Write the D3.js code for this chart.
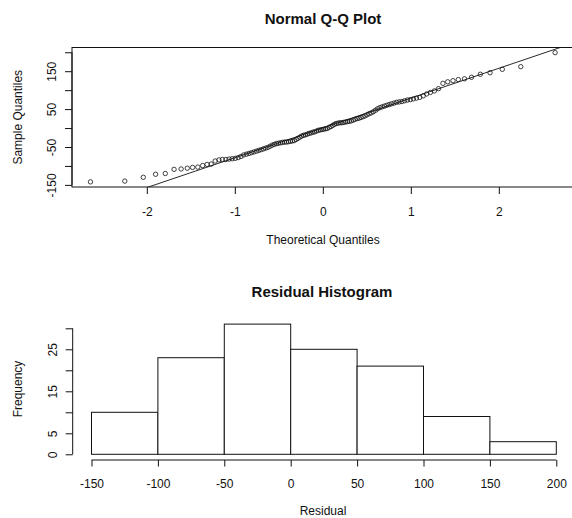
<!DOCTYPE html>
<html>
<head>
<meta charset="utf-8">
<script src="https://cdn.jsdelivr.net/npm/d3@7"></script>
<style>
  body { margin: 0; background: #fff; }
  svg { display: block; font-family: "Liberation Sans", Arial, Helvetica, sans-serif; }
</style>
</head>
<body>
<div id="chart"></div>
<script>
const width = 572;
const height = 518;

// theoretical quantiles (x) of the sorted residuals
const theoretical = [
  -2.64, -2.25, -2.04, -1.90, -1.79, -1.69, -1.61, -1.54, -1.48, -1.42,
  -1.365, -1.315, -1.268, -1.223, -1.180, -1.141, -1.102, -1.065, -1.030, -0.995,
  -0.962, -0.930, -0.899, -0.868, -0.839, -0.810, -0.782, -0.754, -0.727, -0.701,
  -0.674, -0.649, -0.623, -0.599, -0.574, -0.550, -0.526, -0.503, -0.480, -0.457,
  -0.434, -0.412, -0.390, -0.367, -0.346, -0.324, -0.302, -0.281, -0.260, -0.239,
  -0.218, -0.197, -0.176, -0.155, -0.134, -0.113, -0.093, -0.072, -0.051, -0.031,
  -0.010, 0.010, 0.031, 0.051, 0.072, 0.093, 0.113, 0.134, 0.155, 0.176,
  0.197, 0.218, 0.239, 0.260, 0.281, 0.302, 0.324, 0.346, 0.367, 0.390,
  0.412, 0.434, 0.457, 0.480, 0.503, 0.526, 0.550, 0.574, 0.599, 0.623,
  0.649, 0.674, 0.701, 0.727, 0.754, 0.782, 0.810, 0.839, 0.868, 0.899,
  0.930, 0.962, 0.995, 1.030, 1.065, 1.102, 1.141, 1.180, 1.223, 1.268,
  1.315, 1.365, 1.42, 1.48, 1.54, 1.61, 1.69, 1.79, 1.90, 2.04,
  2.25, 2.64
];

// sorted residuals (sample quantiles)
const residuals = [
  -142, -140, -130, -122, -120, -109, -108, -106, -104, -103,
  -99, -96, -95, -87, -84, -83, -83, -82, -81, -80,
  -78, -75, -71, -69, -67, -65, -63, -61, -59, -57,
  -55, -53, -51, -48, -45, -43, -41, -40, -39, -38,
  -37, -37, -36, -35, -34, -33, -30, -27, -24, -21,
  -19, -18, -16, -14, -13, -11, -10, -8, -6, -5,
  -4, -3, -2, -1, 2, 4, 7, 10, 12, 13,
  14, 14, 15, 16, 17, 18, 19, 21, 23, 25,
  26, 28, 30, 32, 35, 38, 40, 43, 47, 51,
  54, 56, 58, 60, 62, 64, 66, 68, 69, 70,
  72, 74, 75, 77, 79, 81, 85, 90, 94, 98,
  104, 118, 122, 125, 128, 130, 134, 142, 146, 155,
  162, 199
];

// reference line (intercept, slope)
const qqIntercept = 0.3;
const qqSlope = 78.7;

const qqTicksX = [-2, -1, 0, 1, 2];
const qqTicksY = [-150, -100, -50, 0, 50, 100, 150, 200];
const qqLabelsY = [-150, -50, 50, 150];

const binEdges = [-150, -100, -50, 0, 50, 100, 150, 200];
const freqTicks = [0, 5, 10, 15, 20, 25, 30];
const freqLabels = [0, 5, 15, 25];

const ink = "#111";

const svg = d3
  .select("#chart")
  .append("svg")
  .attr("width", width)
  .attr("height", height);

svg.append("rect").attr("width", width).attr("height", height).attr("fill", "#fff");

// rotate y tick labels so they read bottom to top, like base R
function rotateLabels(g, offset) {
  g.selectAll(".tick text")
    .attr("transform", "rotate(-90)")
    .attr("x", 0)
    .attr("y", -offset)
    .attr("dy", "0.35em")
    .attr("text-anchor", "middle");
}

function styleAxis(g) {
  g.attr("font-size", 12).attr("font-family", null);
  g.select(".domain").remove();
  g.selectAll(".tick line").attr("stroke", ink);
  g.selectAll(".tick text").attr("fill", ink);
}

// ---------- Normal Q-Q plot ----------
const qq = { left: 72, right: 573.6, top: 47.5, bottom: 187 };

const qqX = d3.scaleLinear().domain([-2.85, 2.85]).range([qq.left, qq.right]);
const qqY = d3.scaleLinear().domain([-155.6, 212.6]).range([qq.bottom, qq.top]);

svg
  .append("clipPath")
  .attr("id", "qq-clip")
  .append("rect")
  .attr("x", qq.left)
  .attr("y", qq.top)
  .attr("width", qq.right - qq.left)
  .attr("height", qq.bottom - qq.top);

const qqPlot = svg.append("g").attr("clip-path", "url(#qq-clip)");

qqPlot
  .selectAll("circle")
  .data(d3.zip(theoretical, residuals))
  .join("circle")
  .attr("cx", (d) => qqX(d[0]))
  .attr("cy", (d) => qqY(d[1]))
  .attr("r", 2.2)
  .attr("fill", "none")
  .attr("stroke", ink)
  .attr("stroke-width", 0.8);

const [lineX0, lineX1] = qqX.domain();
qqPlot
  .append("line")
  .attr("x1", qqX(lineX0))
  .attr("y1", qqY(qqIntercept + qqSlope * lineX0))
  .attr("x2", qqX(lineX1))
  .attr("y2", qqY(qqIntercept + qqSlope * lineX1))
  .attr("stroke", ink)
  .attr("stroke-width", 0.9);

// plot frame
svg
  .append("rect")
  .attr("x", qq.left)
  .attr("y", qq.top)
  .attr("width", qq.right - qq.left)
  .attr("height", qq.bottom - qq.top)
  .attr("fill", "none")
  .attr("stroke", ink);

svg
  .append("g")
  .attr("transform", `translate(0,${qq.bottom})`)
  .call(d3.axisBottom(qqX).tickValues(qqTicksX).tickSize(7).tickFormat((d) => String(d)))
  .call(styleAxis)
  .call((g) => g.selectAll(".tick text").attr("y", 24.7).attr("dy", "0.35em"));

const qqAxisY = svg
  .append("g")
  .attr("transform", `translate(${qq.left},0)`)
  .call(
    d3
      .axisLeft(qqY)
      .tickValues(qqTicksY)
      .tickSize(7)
      .tickFormat((d) => (qqLabelsY.includes(d) ? String(d) : ""))
  )
  .call(styleAxis)
  .call((g) => rotateLabels(g, 20));

qqAxisY
  .append("line")
  .attr("y1", qqY(qqTicksY[0]))
  .attr("y2", qqY(qqTicksY[qqTicksY.length - 1]))
  .attr("stroke", ink);

svg
  .append("text")
  .attr("x", 323)
  .attr("y", 19)
  .attr("dy", "0.35em")
  .attr("text-anchor", "middle")
  .attr("font-size", 15)
  .attr("font-weight", "bold")
  .attr("fill", ink)
  .text("Normal Q-Q Plot");

svg
  .append("text")
  .attr("x", 323)
  .attr("y", 239.5)
  .attr("dy", "0.35em")
  .attr("text-anchor", "middle")
  .attr("font-size", 12)
  .attr("fill", ink)
  .text("Theoretical Quantiles");

svg
  .append("text")
  .attr("transform", `translate(18,${(qq.top + qq.bottom) / 2}) rotate(-90)`)
  .attr("dy", "0.35em")
  .attr("text-anchor", "middle")
  .attr("font-size", 12)
  .attr("fill", ink)
  .text("Sample Quantiles");

// ---------- Residual histogram ----------
const histX = d3.scaleLinear().domain([-164, 214]).range([72.9, 574.9]);
const histY = d3.scaleLinear().domain([-1.24, 32.24]).range([459.5, 318.9]);

const bins = d3
  .bin()
  .domain([binEdges[0], binEdges[binEdges.length - 1]])
  .thresholds(binEdges.slice(1, -1))(residuals);

svg
  .append("g")
  .selectAll("rect")
  .data(bins)
  .join("rect")
  .attr("x", (d) => histX(d.x0))
  .attr("y", (d) => histY(d.length))
  .attr("width", (d) => histX(d.x1) - histX(d.x0))
  .attr("height", (d) => histY(0) - histY(d.length))
  .attr("fill", "#fff")
  .attr("stroke", ink)
  .attr("stroke-width", 1);

const histAxisX = svg
  .append("g")
  .attr("transform", "translate(0,460)")
  .call(d3.axisBottom(histX).tickValues(binEdges).tickSize(6.5).tickFormat((d) => String(d)))
  .call(styleAxis)
  .call((g) => g.selectAll(".tick text").attr("y", 23.3).attr("dy", "0.35em"));

histAxisX
  .append("line")
  .attr("x1", histX(binEdges[0]))
  .attr("x2", histX(binEdges[binEdges.length - 1]))
  .attr("stroke", ink);

const histAxisY = svg
  .append("g")
  .attr("transform", "translate(72.7,0)")
  .call(
    d3
      .axisLeft(histY)
      .tickValues(freqTicks)
      .tickSize(7)
      .tickFormat((d) => (freqLabels.includes(d) ? String(d) : ""))
  )
  .call(styleAxis)
  .call((g) => rotateLabels(g, 20));

histAxisY
  .append("line")
  .attr("y1", histY(freqTicks[0]))
  .attr("y2", histY(freqTicks[freqTicks.length - 1]))
  .attr("stroke", ink);

svg
  .append("text")
  .attr("x", 322)
  .attr("y", 291.7)
  .attr("dy", "0.35em")
  .attr("text-anchor", "middle")
  .attr("font-size", 15)
  .attr("font-weight", "bold")
  .attr("fill", ink)
  .text("Residual Histogram");

svg
  .append("text")
  .attr("x", 323)
  .attr("y", 511)
  .attr("dy", "0.35em")
  .attr("text-anchor", "middle")
  .attr("font-size", 12)
  .attr("fill", ink)
  .text("Residual");

svg
  .append("text")
  .attr("transform", "translate(18,389) rotate(-90)")
  .attr("dy", "0.35em")
  .attr("text-anchor", "middle")
  .attr("font-size", 12)
  .attr("fill", ink)
  .text("Frequency");
</script>
</body>
</html>
